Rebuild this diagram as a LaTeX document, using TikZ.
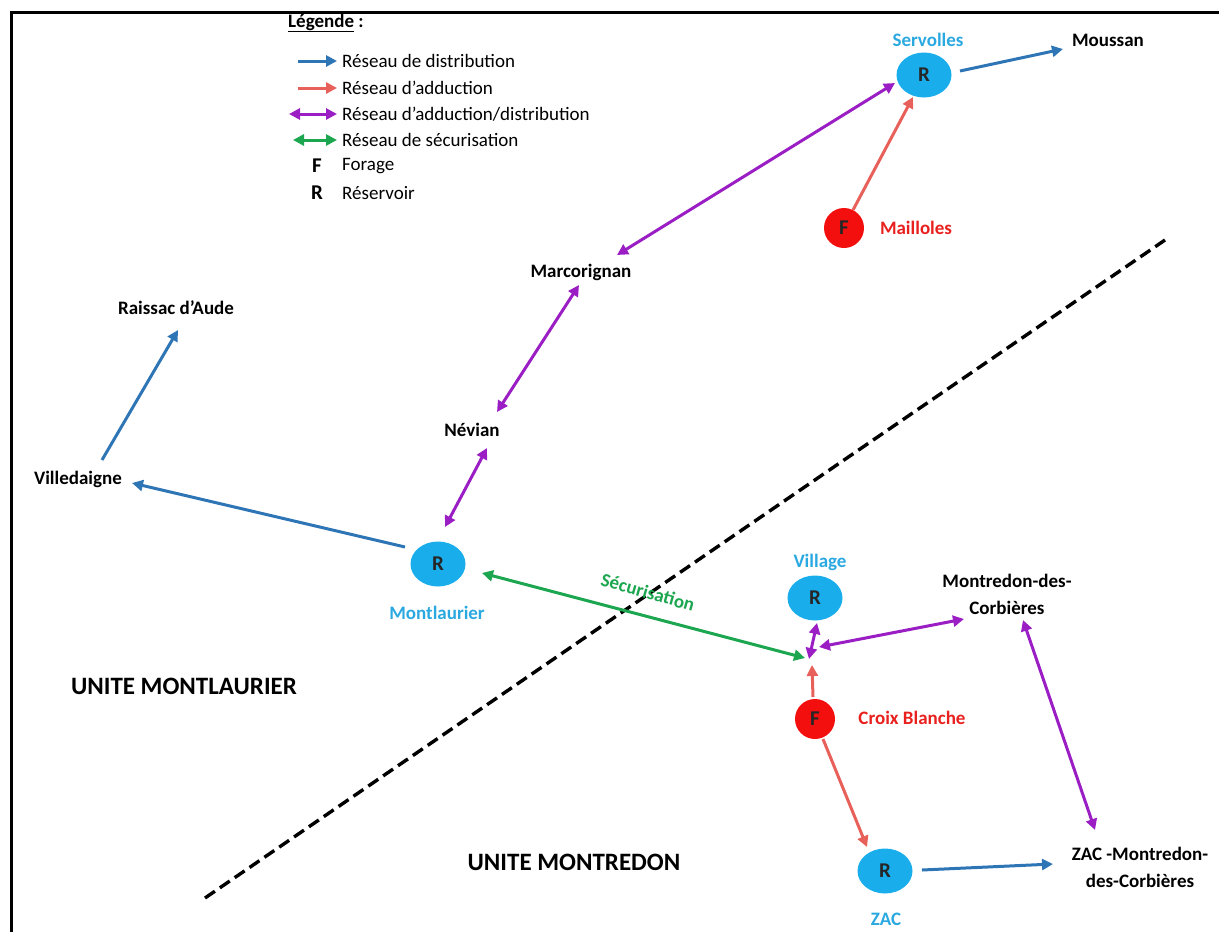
\documentclass[tikz,border=0pt]{standalone}
\usepackage{fontspec}
\setmainfont{Carlito}
\usetikzlibrary{shapes.geometric,arrows.meta,calc}
\definecolor{distb}{HTML}{2E75B6}
\definecolor{addc}{HTML}{E8605A}
\definecolor{addist}{HTML}{9A1EC4}
\definecolor{secu}{HTML}{1DA650}
\definecolor{resfill}{HTML}{1AADEB}
\definecolor{forfill}{HTML}{F40F0F}
\definecolor{lblue}{HTML}{2AA8E0}
\definecolor{lred}{HTML}{E8201E}
\begin{document}
\begin{tikzpicture}[x=1pt,y=-1pt,
  base/.style={font=\fontsize{19}{27}\selectfont},
  res/.style={ellipse,fill=resfill,minimum width=55pt,minimum height=45pt,inner sep=0pt,font=\fontsize{21}{22}\selectfont\bfseries,text=black!85},
  forage/.style={circle,fill=forfill,minimum size=40pt,inner sep=0pt,font=\fontsize{21}{22}\selectfont\bfseries,text=black!85},
  place/.style={font=\fontsize{19}{27}\selectfont\bfseries,align=center,inner sep=0pt},
  bluelbl/.style={place,text=lblue},
  redlbl/.style={place,text=lred},
  unite/.style={font=\fontsize{25}{28}\selectfont\bfseries,inner sep=0pt},
  legtxt/.style={font=\fontsize{19}{22}\selectfont,anchor=west,inner sep=5pt},
  legsym/.style={font=\fontsize{21}{22}\selectfont\bfseries,inner sep=0pt},
  conn/.style={line width=3pt},
  dist/.style={conn,draw=distb,-{Triangle[length=11pt,width=11pt]}},
  adduc/.style={conn,draw=addc,-{Triangle[length=11pt,width=11pt]}},
  addist2/.style={conn,draw=addist,{Triangle[length=11pt,width=11pt]}-{Triangle[length=11pt,width=11pt]}},
  secu2/.style={conn,draw=secu,{Triangle[length=11pt,width=11pt]}-{Triangle[length=11pt,width=11pt]}},
  divider/.style={line width=3.4pt,dash pattern=on 12pt off 6pt}
]
\useasboundingbox (0,0) rectangle (1219,932);
% frame
\draw[line width=3pt] (11,932) -- (11,12) -- (1219,12);

% legend
\node[font=\fontsize{19}{22}\selectfont\bfseries,anchor=west,inner sep=0pt] (legtitle) at (288,23) {\underline{Légende} :};
\coordinate (k1) at (298,61);
\coordinate (k2) at (298,88);
\coordinate (k3) at (289,114);
\coordinate (k4) at (293,140);
\node[legtxt] (l1) at (337,61) {Réseau de distribution};
\node[legtxt] (l2) at (337,88) {Réseau d’adduction};
\node[legtxt] (l3) at (337,114) {Réseau d’adduction/distribution};
\node[legtxt] (l4) at (337,140) {Réseau de sécurisation};
\node[legtxt] (l5) at (337,166) {Forage};
\node[legtxt] (l6) at (337,193) {Réservoir};
\node[legsym] (lf) at (317,166) {F};
\node[legsym] (lr) at (317,193) {R};
\draw[dist] (k1) -- (l1.west);
\draw[adduc] (k2) -- (l2.west);
\draw[addist2] (k3) -- (l3.west);
\draw[secu2] (k4) -- (l4.west);

% divider
\coordinate (d1) at (205,898);
\coordinate (d2) at (1165,240);
\draw[divider] (d1) -- (d2);

% nodes
\node[res] (serv) at (924,75) {R};
\node[bluelbl] (servl) at (928,40) {Servolles};
\node[place] (mous) at (1108,40) {Moussan};
\node[forage] (mail) at (844,228) {F};
\node[redlbl] (maill) at (916,228) {Mailloles};
\node[place] (marc) at (581,272) {Marcorignan};
\node[place] (rais) at (176,308) {Raissac d’Aude};
\node[place] (nev) at (472,430) {Névian};
\node[place] (vill) at (78,479) {Villedaigne};
\node[res] (mont) at (438,564) {R};
\node[bluelbl] (montl) at (437,613) {Montlaurier};
\node[res] (vil) at (815,598) {R};
\node[bluelbl] (vill2) at (820,562) {Village};
\node[place] (mtr) at (1007,594) {Montredon-des-\\Corbières};
\coordinate (j) at (810,660);
\node[forage] (croix) at (815,719) {F};
\node[redlbl] (croixl) at (912,718) {Croix Blanche};
\node[res] (zac) at (885,871) {R};
\node[bluelbl] (zacl) at (886,919) {ZAC};
\node[place] (zacm) at (1140,867) {ZAC -Montredon-\\des-Corbières};
\node[unite] (um) at (184,686) {UNITE MONTLAURIER};
\node[unite] (umd) at (574,862) {UNITE MONTREDON};
\node[place,text=secu,rotate=-16] (secl) at (648,592) {Sécurisation};

% connectors
\draw[dist] ($(serv)+(36,-4)$) -- ($(mous)+(-45,9)$);
\draw[adduc] ($(mail)+(9,-18)$) -- ($(serv)+(-11,22)$);
\draw[addist2] ($(marc)+(36,-17)$) -- ($(serv)+(-29,8)$);
\draw[addist2] ($(marc)+(-2,13)$) -- ($(nev)+(25,-18)$);
\draw[addist2] ($(nev)+(15,18)$) -- ($(mont)+(7,-37)$);
\draw[dist] ($(mont)+(-33,-17)$) -- ($(vill)+(54,4)$);
\draw[dist] ($(vill)+(24,-19)$) -- ($(rais)+(2,22)$);
\draw[secu2] ($(mont)+(44,9)$) -- ($(j)+(-5,-2)$);
\draw[addist2] ($(j)+(-1,-1)$) -- ($(vil)+(2,25)$);
\draw[addist2] ($(j)+(9,-13)$) -- ($(mtr)+(-43,25)$);
\draw[adduc] ($(croix)+(-2,-22)$) -- ($(j)+(2,5)$);
\draw[adduc] ($(croix)+(8,20)$) -- ($(zac)+(-18,-24)$);
\draw[addist2] ($(mtr)+(16,26)$) -- ($(zacm)+(-45,-37)$);
\draw[dist] ($(zac)+(37,-1)$) -- ($(zacm)+(-87,-3)$);
\end{tikzpicture}
\end{document}
